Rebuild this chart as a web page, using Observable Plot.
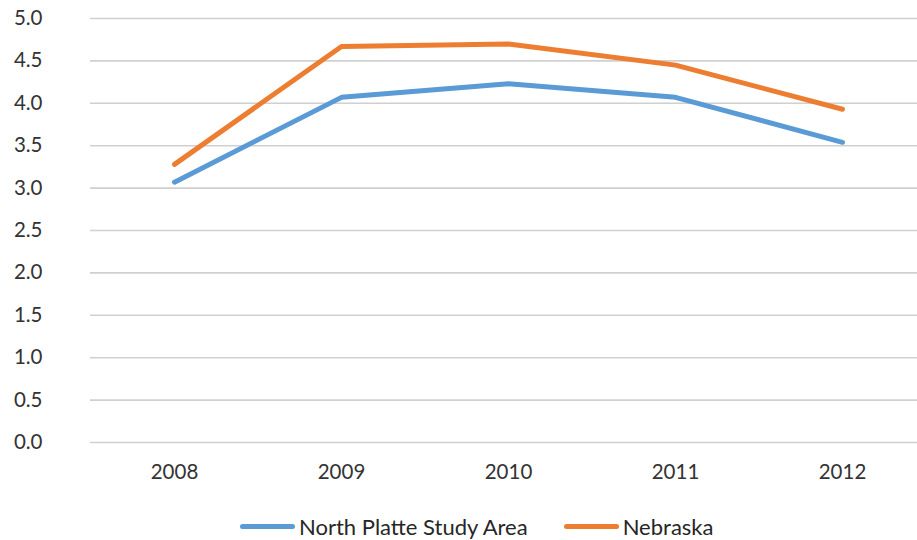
<!DOCTYPE html>
<html>
<head>
<meta charset="utf-8">
<script src="https://cdn.jsdelivr.net/npm/d3@7"></script>
<script src="https://cdn.jsdelivr.net/npm/@observablehq/plot@0.6"></script>
<style>
  html, body { margin: 0; padding: 0; background: #fff; }
  body { width: 917px; height: 540px; overflow: hidden; font-family: Lato, "Open Sans", sans-serif; }
  #legend { display: flex; align-items: center; margin-left: 240px; margin-top: 15px; font-size: 22px; color: #262626; }
  .item { display: flex; align-items: center; margin-right: 36px; }
  .sw { width: 55px; height: 5px; border-radius: 3px; margin-right: 4px; }
</style>
</head>
<body>
<div id="chart"></div>
<div id="legend"></div>
<script>
const years = ["2008", "2009", "2010", "2011", "2012"];
const northPlatte = [3.07, 4.07, 4.23, 4.07, 3.54];
const nebraska = [3.28, 4.67, 4.70, 4.45, 3.93];
const yTicks = [0, 0.5, 1, 1.5, 2, 2.5, 3, 3.5, 4, 4.5, 5];
const seriesNames = ["North Platte Study Area", "Nebraska"];
const colors = ["#5B9BD5", "#ED7D31"];

const data = [
  ...years.map((y, i) => ({year: y, value: northPlatte[i], series: seriesNames[0]})),
  ...years.map((y, i) => ({year: y, value: nebraska[i], series: seriesNames[1]}))
];

const chart = Plot.plot({
  width: 917,
  height: 498,
  marginLeft: 90,
  marginRight: 0,
  marginTop: 18,
  marginBottom: 56,
  style: {fontFamily: "Lato, 'Open Sans', sans-serif", fontSize: "20.5px", color: "#333", background: "#fff"},
  x: {type: "point", domain: years, range: [89.4, 925.6], padding: 0.5, label: null},
  y: {domain: [0, 5], label: null},
  color: {domain: seriesNames, range: colors},
  marks: [
    Plot.ruleY(yTicks, {stroke: "#d0d0d0", strokeWidth: 1.6}),
    Plot.axisY({ticks: yTicks, tickSize: 0, tickPadding: 48, tickFormat: d3.format(".1f"), label: null, fill: "#333"}),
    Plot.axisX({tickSize: 0, tickPadding: 22, label: null, fill: "#333"}),
    Plot.line(data, {x: "year", y: "value", z: "series", stroke: "series", strokeWidth: 5, strokeLinecap: "round", strokeLinejoin: "round"})
  ]
});
document.getElementById("chart").appendChild(chart);

const legend = document.getElementById("legend");
seriesNames.forEach((name, i) => {
  const item = document.createElement("div");
  item.className = "item";
  const sw = document.createElement("div");
  sw.className = "sw";
  sw.style.background = colors[i];
  const label = document.createElement("span");
  label.textContent = name;
  item.appendChild(sw);
  item.appendChild(label);
  legend.appendChild(item);
});
</script>
</body>
</html>
